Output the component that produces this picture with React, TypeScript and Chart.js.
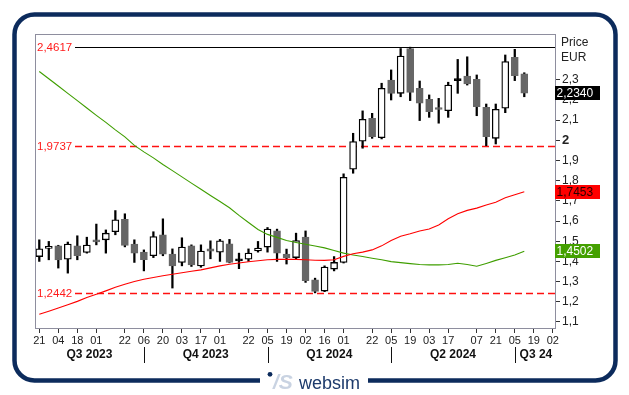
import React, { useEffect, useRef } from 'react';
import { Chart, registerables } from 'chart.js';
Chart.register(...registerables);

// Weekly candles, first candle = week of 21 Jul 2023
const opens = [1.424, 1.465, 1.477, 1.411, 1.477, 1.444, 1.507, 1.507, 1.547, 1.609, 1.486, 1.446, 1.428, 1.532, 1.436, 1.395, 1.477, 1.378, 1.462, 1.446, 1.487, 1.403, 1.411, 1.452, 1.471, 1.551, 1.436, 1.419, 1.520, 1.309, 1.253, 1.362, 1.395, 1.857, 1.996, 2.109, 2.013, 2.299, 2.233, 2.455, 2.258, 2.203, 2.154, 2.147, 2.296, 2.319, 2.302, 2.164, 2.010, 2.159, 2.411, 2.329];
const highs = [1.507, 1.499, 1.480, 1.496, 1.527, 1.520, 1.585, 1.556, 1.652, 1.636, 1.507, 1.457, 1.547, 1.611, 1.462, 1.517, 1.482, 1.482, 1.502, 1.509, 1.509, 1.441, 1.462, 1.499, 1.568, 1.560, 1.461, 1.540, 1.551, 1.317, 1.378, 1.424, 1.834, 2.035, 2.146, 2.134, 2.283, 2.349, 2.455, 2.4617, 2.294, 2.225, 2.208, 2.288, 2.401, 2.414, 2.324, 2.180, 2.180, 2.423, 2.451, 2.335];
const lows = [1.400, 1.408, 1.367, 1.342, 1.408, 1.441, 1.482, 1.441, 1.532, 1.472, 1.395, 1.353, 1.419, 1.428, 1.268, 1.378, 1.375, 1.371, 1.413, 1.400, 1.393, 1.364, 1.400, 1.446, 1.446, 1.400, 1.387, 1.413, 1.296, 1.2442, 1.250, 1.353, 1.392, 1.837, 1.961, 2.010, 2.007, 2.200, 2.216, 2.197, 2.098, 2.114, 2.085, 2.114, 2.233, 2.274, 2.122, 1.9737, 1.982, 2.137, 2.296, 2.216];
const closes = [1.462, 1.474, 1.408, 1.486, 1.428, 1.481, 1.496, 1.540, 1.606, 1.479, 1.441, 1.409, 1.523, 1.436, 1.378, 1.471, 1.383, 1.451, 1.451, 1.502, 1.395, 1.404, 1.441, 1.466, 1.560, 1.441, 1.419, 1.503, 1.305, 1.251, 1.372, 1.395, 1.817, 1.994, 2.104, 2.018, 2.258, 2.233, 2.418, 2.238, 2.184, 2.142, 2.153, 2.274, 2.297, 2.279, 2.167, 2.018, 2.154, 2.390, 2.320, 2.234];

// Moving averages (red = rising, green = falling)
const maRed = [1.138, 1.153, 1.169, 1.185, 1.202, 1.221, 1.237, 1.254, 1.272, 1.287, 1.300, 1.312, 1.320, 1.329, 1.336, 1.344, 1.351, 1.358, 1.368, 1.378, 1.386, 1.392, 1.398, 1.403, 1.408, 1.410, 1.411, 1.410, 1.408, 1.406, 1.405, 1.408, 1.425, 1.438, 1.446, 1.457, 1.477, 1.504, 1.525, 1.537, 1.551, 1.561, 1.581, 1.611, 1.636, 1.653, 1.664, 1.680, 1.693, 1.715, 1.730, 1.7453];
const maGreen = [2.341, 2.305, 2.269, 2.233, 2.197, 2.160, 2.124, 2.089, 2.052, 2.017, 1.975, 1.943, 1.913, 1.880, 1.850, 1.819, 1.788, 1.758, 1.727, 1.697, 1.666, 1.628, 1.593, 1.558, 1.534, 1.519, 1.504, 1.494, 1.485, 1.476, 1.467, 1.454, 1.441, 1.432, 1.424, 1.416, 1.408, 1.399, 1.394, 1.389, 1.385, 1.383, 1.383, 1.385, 1.391, 1.385, 1.376, 1.390, 1.405, 1.418, 1.432, 1.4502];

// X tick labels (week index -> day of month)
const xTickIndex = [0, 2, 4, 6, 9, 11, 13, 15, 17, 19, 22, 24, 26, 28, 30, 32, 35, 37, 39, 41, 43, 46, 48, 50, 52, 54];
const xTickLabels = ['21', '04', '18', '01', '22', '06', '20', '03', '17', '01', '22', '05', '19', '02', '16', '01', '22', '05', '19', '03', '17', '07', '21', '05', '19', '02'];
const quarterBreaks = [11, 24, 37, 50];
const quarterLabels = ['Q3 2023', 'Q4 2023', 'Q1 2024', 'Q2 2024', 'Q3 24'];
const yTicks = [1.1, 1.2, 1.3, 1.4, 1.5, 1.6, 1.7, 1.8, 1.9, 2.0, 2.1, 2.2, 2.3];

const levelTop = 2.4617;
const levelMid = 1.9737;
const levelLow = 1.2442;
const lastPrice = 2.2340;
const lastRed = 1.7453;
const lastGreen = 1.4502;

const FONT = '"Liberation Sans", Arial, sans-serif';
const NAVY = '#0c2b5c';
const fmt = (v: number, d: number) => v.toFixed(d).replace('.', ',');

const decor = {
  id: 'decor',
  beforeDraw(chart: any) {
    const ctx = chart.ctx;
    ctx.save();
    ctx.fillStyle = '#ffffff';
    ctx.fillRect(0, 0, chart.width, chart.height);
    // frame
    const L = 14.5, T = 14.5, R = 615.5, B = 380.5, r = 20;
    ctx.strokeStyle = NAVY;
    ctx.lineWidth = 4.5;
    ctx.beginPath();
    ctx.moveTo(260, B);
    ctx.lineTo(L + r, B);
    ctx.arcTo(L, B, L, B - r, r);
    ctx.lineTo(L, T + r);
    ctx.arcTo(L, T, L + r, T, r);
    ctx.lineTo(R - r, T);
    ctx.arcTo(R, T, R, T + r, r);
    ctx.lineTo(R, B - r);
    ctx.arcTo(R, B, R - r, B, r);
    ctx.lineTo(368, B);
    ctx.stroke();
    // logo
    ctx.fillStyle = NAVY;
    ctx.beginPath();
    ctx.arc(270, 374.3, 2.4, 0, Math.PI * 2);
    ctx.fill();
    ctx.fillStyle = '#c9d3e2';
    ctx.font = 'italic bold 21px ' + FONT;
    ctx.textBaseline = 'alphabetic';
    ctx.textAlign = 'left';
    ctx.fillText('/S', 273, 389);
    ctx.fillStyle = '#1c3a6b';
    ctx.font = '18px ' + FONT;
    ctx.fillText('websim', 299, 389);
    ctx.restore();
  },
  beforeDatasetsDraw(chart: any) {
    const ctx = chart.ctx;
    const a = chart.chartArea;
    const y = chart.scales.y;
    ctx.save();
    ctx.beginPath();
    ctx.rect(a.left, a.top, a.right - a.left, a.bottom - a.top);
    ctx.clip();
    const levels = [
      { v: levelTop, color: '#000000', dash: [] as number[] },
      { v: levelMid, color: '#ff1010', dash: [7, 4] },
      { v: levelLow, color: '#ff1010', dash: [7, 4] },
    ];
    levels.forEach((lv) => {
      const py = Math.round(y.getPixelForValue(lv.v)) + 0.5;
      ctx.strokeStyle = lv.color;
      ctx.lineWidth = lv.dash.length ? 1.6 : 1;
      ctx.setLineDash(lv.dash);
      ctx.beginPath();
      ctx.moveTo(a.left + 40, py);
      ctx.lineTo(a.right, py);
      ctx.stroke();
      ctx.setLineDash([]);
      ctx.fillStyle = '#ff1a1a';
      ctx.font = '11.5px ' + FONT;
      ctx.textAlign = 'left';
      ctx.textBaseline = 'middle';
      ctx.fillText(fmt(lv.v, 4), a.left + 2, py);
    });
    ctx.restore();
  },
  afterDraw(chart: any) {
    const ctx = chart.ctx;
    const a = chart.chartArea;
    const x = chart.scales.x;
    const y = chart.scales.y;
    ctx.save();
    // plot box
    ctx.strokeStyle = '#8e8e9e';
    ctx.lineWidth = 1;
    ctx.strokeRect(Math.round(a.left) + 0.5, Math.round(a.top) + 0.5, Math.round(a.right - a.left), Math.round(a.bottom - a.top));
    // quarter separators and labels
    const bounds = [a.left, ...quarterBreaks.map((q) => x.getPixelForValue(q)), a.right];
    ctx.strokeStyle = '#111111';
    quarterBreaks.forEach((q) => {
      const px = Math.round(x.getPixelForValue(q)) + 0.5;
      ctx.beginPath();
      ctx.moveTo(px, 347);
      ctx.lineTo(px, 363);
      ctx.stroke();
    });
    ctx.fillStyle = '#111111';
    ctx.font = 'bold 12px ' + FONT;
    ctx.textAlign = 'center';
    ctx.textBaseline = 'middle';
    quarterLabels.forEach((lab, i) => {
      const cx = (bounds[i] + bounds[i + 1]) / 2;
      ctx.fillText(lab, cx + (i === quarterLabels.length - 1 ? 1 : 0), 354.5);
    });
    // header
    ctx.textAlign = 'left';
    ctx.textBaseline = 'alphabetic';
    ctx.font = '12px ' + FONT;
    ctx.fillStyle = '#222222';
    ctx.fillText('Price', 561, 45.7);
    ctx.fillText('EUR', 561, 60.7);
    // value tags
    const tags = [
      { v: lastPrice, bg: '#000000', fg: '#ffffff' },
      { v: lastRed, bg: '#ff0000', fg: '#2a0000' },
      { v: lastGreen, bg: '#44a000', fg: '#ffffff' },
    ];
    tags.forEach((t) => {
      const py = y.getPixelForValue(t.v);
      ctx.fillStyle = t.bg;
      ctx.fillRect(555, Math.round(py - 7), 45, 14);
      ctx.fillStyle = t.fg;
      ctx.font = '12px ' + FONT;
      ctx.textBaseline = 'middle';
      ctx.fillText(fmt(t.v, 4), 556.5, py + 0.5);
    });
    ctx.restore();
  },
};

export default function App() {
  const ref = useRef<HTMLCanvasElement | null>(null);
  useEffect(() => {
    if (!ref.current) return;
    const idx = opens.map((_, i) => i);
    const bodyBg = idx.map((i) => {
      const d = closes[i] - opens[i];
      if (Math.abs(d) < 0.0015) return d >= 0 ? '#000000' : '#666666';
      return d > 0 ? '#ffffff' : '#666666';
    });
    const bodyBorder = idx.map((i) => (closes[i] - opens[i] >= 0 ? '#000000' : '#666666'));
    const chart = new Chart(ref.current, {
      type: 'bar',
      data: {
        datasets: [
          {
            type: 'line',
            data: idx.map((i) => ({ x: i, y: maRed[i] })),
            borderColor: '#ff0000',
            borderWidth: 1.1,
            pointRadius: 0,
            tension: 0,
            order: 1,
          } as any,
          {
            type: 'line',
            data: idx.map((i) => ({ x: i, y: maGreen[i] })),
            borderColor: '#3f9e00',
            borderWidth: 1.1,
            pointRadius: 0,
            tension: 0,
            order: 1,
          } as any,
          {
            type: 'bar',
            data: idx.map((i) => ({ x: i, y: [opens[i], closes[i]] })),
            backgroundColor: bodyBg,
            borderColor: bodyBorder,
            borderWidth: 1.3,
            borderSkipped: false,
            barThickness: 7,
            minBarLength: 2,
            grouped: false,
            order: 2,
          } as any,
          {
            type: 'bar',
            data: idx.map((i) => ({ x: i, y: [lows[i], highs[i]] })),
            backgroundColor: '#000000',
            borderWidth: 0,
            barThickness: 1.6,
            grouped: false,
            order: 3,
          } as any,
        ],
      },
      options: {
        responsive: false,
        animation: false,
        events: [],
        layout: { padding: { left: 35, top: 34, right: 0, bottom: 0 } },
        plugins: { legend: { display: false }, tooltip: { enabled: false }, title: { display: false } },
        scales: {
          x: {
            type: 'linear',
            min: -0.45,
            max: 54.23,
            offset: false,
            afterBuildTicks: (s: any) => {
              s.ticks = xTickIndex.map((v) => ({ value: v }));
            },
            afterFit: (s: any) => {
              s.height = 67;
            },
            grid: { drawOnChartArea: false, drawTicks: true, tickLength: 5, color: '#333333', offset: false },
            border: { display: true, color: '#8e8e9e' },
            ticks: {
              autoSkip: false,
              maxRotation: 0,
              minRotation: 0,
              padding: 1,
              color: '#222222',
              font: { family: FONT, size: 11 },
              callback: (v: any) => {
                const k = xTickIndex.indexOf(Number(v));
                return k >= 0 ? xTickLabels[k] : '';
              },
            },
          },
          y: {
            type: 'linear',
            position: 'right',
            min: 1.07,
            max: 2.527,
            afterBuildTicks: (s: any) => {
              s.ticks = yTicks.map((v) => ({ value: v }));
            },
            afterFit: (s: any) => {
              s.width = 74;
            },
            grid: { drawOnChartArea: false, drawTicks: true, tickLength: 5, color: '#333333' },
            border: { display: true, color: '#8e8e9e' },
            ticks: {
              padding: 2,
              color: '#222222',
              font: (c: any) =>
                c.tick && Math.abs(c.tick.value - 2) < 1e-9
                  ? { family: FONT, size: 13, weight: 'bold' }
                  : { family: FONT, size: 12 },
              callback: (v: any) => (Math.abs(Number(v) - 2) < 1e-9 ? '2' : fmt(Number(v), 1)),
            },
          },
        },
      } as any,
      plugins: [decor],
    });
    return () => chart.destroy();
  }, []);
  return (
    <div style={{ position: 'absolute', left: 0, top: 0, width: 629, height: 395 }}>
      <canvas ref={ref} width={629} height={395} style={{ width: 629, height: 395, display: 'block' }} />
    </div>
  );
}
